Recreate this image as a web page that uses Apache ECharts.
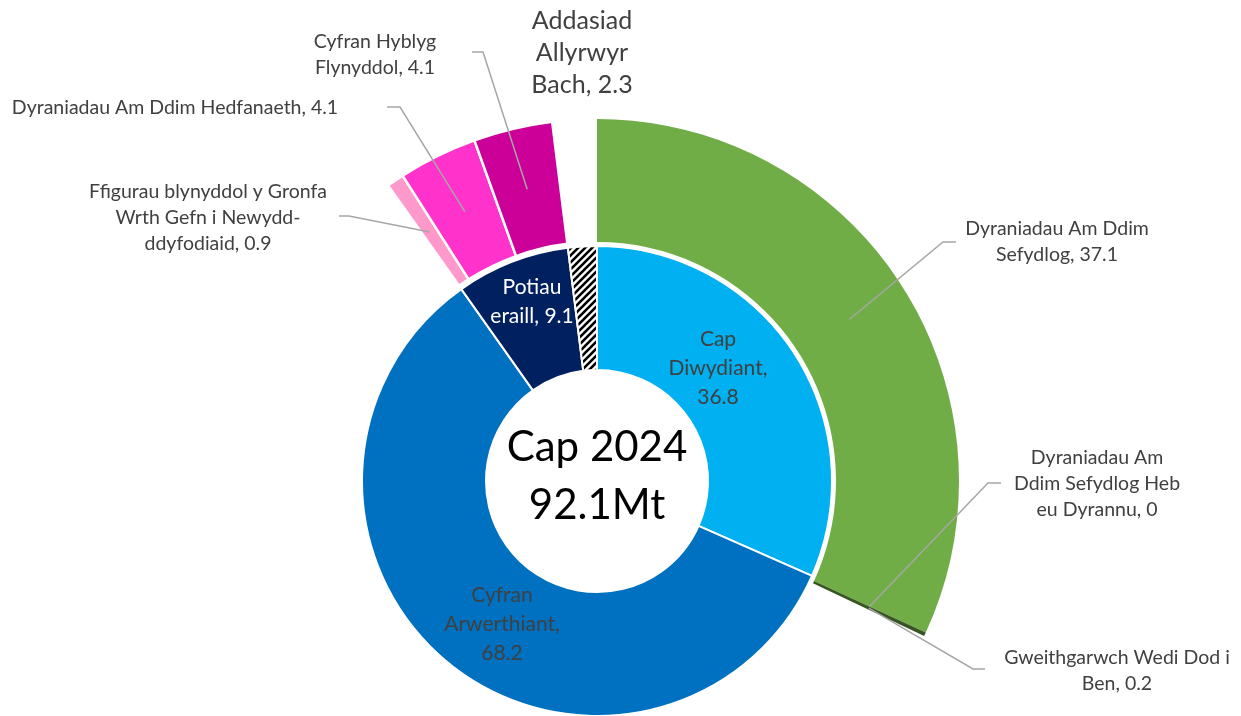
<!DOCTYPE html>
<html>
<head>
<meta charset="utf-8">
<script src="https://cdn.jsdelivr.net/npm/echarts@6/dist/echarts.min.js"></script>
<style>
html, body { margin: 0; padding: 0; background: #fff; }
#chart { width: 1241px; height: 716px; }
</style>
</head>
<body>
<div id="chart"></div>
<script>
// data
var innerNames = ['Cap\nDiwydiant', 'Cyfran\nArwerthiant', 'Potiau\neraill', 'Addasiad Allyrwyr Bach'];
var innerValues = [36.8, 68.2, 9.1, 2.3];
var innerBreak = [true, true, false, false]; // new line after the comma

var outerNames = [
    'Dyraniadau Am Ddim\nSefydlog',
    'Dyraniadau Am\nDdim Sefydlog Heb\neu Dyrannu',
    'Gweithgarwch Wedi Dod i\nBen',
    '',
    'Ffigurau blynyddol y Gronfa\nWrth Gefn i Newydd-\nddyfodiaid',
    'Dyraniadau Am Ddim Hedfanaeth',
    'Cyfran Hyblyg\nFlynyddol',
    'Addasiad\nAllyrwyr\nBach'
];
var outerValues = [37.1, 0, 0.2, 67.7, 0.9, 4.1, 4.1, 2.3];

var centerText = ['Cap 2024', '92.1Mt'];

// styles
var CX = 597, CY = 481;
var FONT = 'Lato, "Noto Sans", sans-serif';
var NONE = 'rgba(0,0,0,0)';
var innerColors = ['#00B0F0', '#0070C0', '#002060', null];
var outerColors = ['#70AD47', '#375623', '#375623', NONE, '#FF99CC', '#FF33CC', '#CC0099', '#ffffff'];

// label placement (text centre) and leader elbow/end x
var innerLabelPos = [[718, 368], [502, 624], [532, 302]];
var outerLabelPos = [
    { x: 1057, y: 242, ly: 242, elbow: 943, end: 956 },
    { x: 1097, y: 484, ly: 483, elbow: 988, end: 1001 },
    { x: 1117, y: 671, ly: 669, elbow: 973, end: 985 },
    null,
    { x: 208, y: 218, ly: 216, elbow: 349, end: 339 },
    { x: 175, y: 108, ly: 107, elbow: 400, end: 387 },
    { x: 375, y: 55, ly: 52, elbow: 483, end: 472 },
    { x: 582, y: 53 }
];

// hatch pattern for the small inner slice
function makeHatch() {
    var c = document.createElement('canvas');
    var s = 7;
    c.width = s; c.height = s;
    var g = c.getContext('2d');
    g.fillStyle = '#fff';
    g.fillRect(0, 0, s, s);
    g.strokeStyle = '#000';
    g.lineWidth = 2.6;
    [[0, s, s, 0], [-s, s, s, -s], [0, 2 * s, 2 * s, 0]].forEach(function (l) {
        g.beginPath();
        g.moveTo(l[0], l[1]);
        g.lineTo(l[2], l[3]);
        g.stroke();
    });
    return c;
}
innerColors[3] = { image: makeHatch(), repeat: 'repeat' };

// mid angles of outer slices (radians, clockwise from 12 o'clock)
var outerTotal = outerValues.reduce(function (a, b) { return a + b; }, 0);
var outerMid = [];
var acc = 0;
outerValues.forEach(function (v) {
    outerMid.push((acc + v / 2) / outerTotal * Math.PI * 2);
    acc += v;
});

var innerData = innerValues.map(function (v, i) {
    return {
        name: innerNames[i],
        value: v,
        itemStyle: { color: innerColors[i], borderColor: '#fff', borderWidth: 2 },
        label: {
            show: i < 3,
            color: i === 2 ? '#ffffff' : '#404040'
        }
    };
});

var outerData = outerValues.map(function (v, i) {
    var pink = i >= 4 && i <= 6;
    return {
        name: outerNames[i],
        value: v,
        itemStyle: {
            color: outerColors[i],
            borderColor: '#fff',
            borderWidth: pink ? 2.5 : 0
        }
    };
});

// transparent copy of the outer ring, drawn on top, carrying labels + leaders
var labelData = outerValues.map(function (v, i) {
    var gap = i === 3;
    var d = {
        name: outerNames[i],
        value: v,
        itemStyle: { color: NONE },
        label: { show: !gap },
        labelLine: { show: !gap && i !== 7 }
    };
    if (i === 7) {
        d.label.fontSize = 25;
        d.label.lineHeight = 32;
    }
    return d;
});

var chart = echarts.init(document.getElementById('chart'));

var option = {
    animation: false,
    backgroundColor: '#ffffff',
    graphic: [{
        type: 'text',
        x: CX,
        y: 476,
        style: {
            text: centerText.join('\n'),
            align: 'center',
            verticalAlign: 'middle',
            fontSize: 42,
            lineHeight: 58,
            fontFamily: FONT,
            fill: '#000000'
        }
    }],
    series: [
        {
            type: 'pie',
            center: [CX, CY],
            radius: [111, 235],
            startAngle: 90,
            clockwise: true,
            avoidLabelOverlap: false,
            emphasis: { disabled: true },
            label: {
                position: 'inside',
                fontFamily: FONT,
                fontSize: 21,
                lineHeight: 29,
                formatter: function (p) {
                    return p.name + ',' + (innerBreak[p.dataIndex] ? '\n' : ' ') + p.value;
                }
            },
            labelLine: { show: false },
            labelLayout: function (p) {
                var pos = innerLabelPos[p.dataIndex];
                if (!pos) return {};
                return { x: pos[0], y: pos[1], align: 'center', verticalAlign: 'middle' };
            },
            data: innerData
        },
        {
            type: 'pie',
            center: [CX, CY],
            radius: [239, 362],
            startAngle: 90,
            clockwise: true,
            emphasis: { disabled: true },
            label: { show: false },
            labelLine: { show: false },
            data: outerData
        },
        {
            type: 'pie',
            z: 5,
            silent: true,
            center: [CX, CY],
            radius: [239, 362],
            startAngle: 90,
            clockwise: true,
            avoidLabelOverlap: false,
            emphasis: { disabled: true },
            label: {
                position: 'outside',
                fontFamily: FONT,
                fontSize: 19.5,
                lineHeight: 26,
                color: '#404040',
                formatter: '{b}, {c}'
            },
            labelLine: {
                show: true,
                lineStyle: { color: '#A6A6A6', width: 1.5 }
            },
            labelLayout: function (p) {
                var L = outerLabelPos[p.dataIndex];
                if (!L) return {};
                var res = { x: L.x, y: L.y, align: 'center', verticalAlign: 'middle' };
                if (L.elbow) {
                    var a = outerMid[p.dataIndex];
                    var sx = CX + 300 * Math.sin(a);
                    var sy = CY - 300 * Math.cos(a);
                    res.labelLinePoints = [[sx, sy], [L.elbow, L.ly], [L.end, L.ly]];
                }
                return res;
            },
            data: labelData
        }
    ]
};

chart.setOption(option);
</script>
</body>
</html>
